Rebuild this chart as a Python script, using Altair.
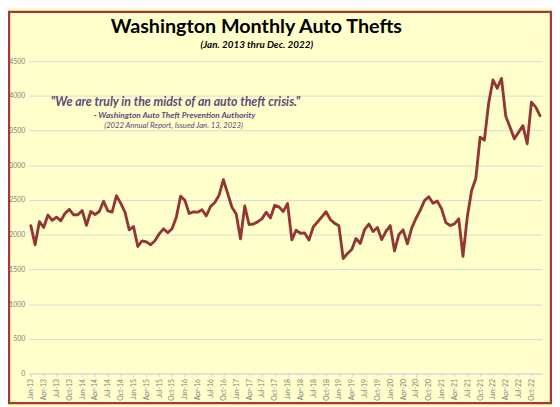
import altair as alt
import pandas as pd

# ---- data -------------------------------------------------------------
month_names = ["Jan", "Feb", "Mar", "Apr", "May", "Jun",
               "Jul", "Aug", "Sep", "Oct", "Nov", "Dec"]
years = [13, 14, 15, 16, 17, 18, 19, 20, 21, 22]
month_labels = [f"{m}-{y}" for y in years for m in month_names]

thefts = [
    2130, 1855, 2188, 2105, 2283, 2206, 2253, 2200, 2308, 2365, 2287, 2287,  # 2013
    2348, 2135, 2334, 2291, 2334, 2481, 2344, 2327, 2561, 2455, 2325, 2070,  # 2014
    2118, 1830, 1912, 1897, 1855, 1913, 2012, 2085, 2028, 2087, 2253, 2555,  # 2015
    2495, 2306, 2330, 2325, 2360, 2272, 2406, 2465, 2570, 2792, 2595, 2395,  # 2016
    2297, 1940, 2414, 2147, 2154, 2185, 2228, 2325, 2242, 2424, 2400, 2336,  # 2017
    2448, 1926, 2064, 2021, 2026, 1922, 2112, 2183, 2258, 2330, 2220, 2164,  # 2018
    2128, 1657, 1730, 1787, 1946, 1873, 2075, 2154, 2047, 2103, 1930, 2047,  # 2019
    2131, 1766, 2000, 2070, 1869, 2093, 2234, 2350, 2491, 2547, 2453, 2484,  # 2020
    2372, 2175, 2133, 2157, 2229, 1690, 2252, 2633, 2810, 3405, 3362, 3895,  # 2021
    4229, 4110, 4252, 3705, 3548, 3381, 3476, 3571, 3310, 3910, 3838, 3714,  # 2022
]

y_ticks = [0, 500, 1000, 1500, 2000, 2500, 3000, 3500, 4000, 4500]
x_tick_labels = month_labels[::3]

title_text = "Washington Monthly Auto Thefts"
subtitle_text = "(Jan. 2013 thru Dec. 2022)"
quote_text = "\"We are truly in the midst of an auto theft crisis.\""
source_text = "- Washington Auto Theft Prevention Authority"
report_text = "(2022 Annual Report, Issued Jan. 13, 2023)"

df = pd.DataFrame({"month": month_labels, "thefts": thefts})
one = pd.DataFrame({"k": [0]})

PAD_L, PAD_T = 21, 51
W, H = 521, 317
FONT = "Lato"
GRAY = "#808080"
GRID = "#D9D9D9"
LINE = "#943634"
PURPLE = "#5F497A"

line = alt.Chart(df).mark_line(
    color=LINE, strokeWidth=2.9, strokeJoin="round", strokeCap="round"
).encode(
    x=alt.X("month:O", sort=month_labels, title=None,
            scale=alt.Scale(padding=0.5),
            axis=alt.Axis(values=x_tick_labels, labelAngle=270, labelFontSize=7,
                          labelColor=GRAY, labelFont=FONT, labelOverlap=False,
                          domainColor=GRID, tickColor=GRID, tickSize=3,
                          labelPadding=2, grid=False)),
    y=alt.Y("thefts:Q", title=None,
            scale=alt.Scale(domain=[0, 4500], nice=False),
            axis=alt.Axis(values=y_ticks, format="d", gridColor=GRID, domain=False,
                          ticks=False, labelFontSize=7, labelColor=GRAY,
                          labelFont=FONT, labelPadding=4)),
)

# absolute page coordinates -> group coordinates
def gx(x):
    return x - 8 - PAD_L

def gy(y):
    return y - 8 - PAD_T

def txt(text, x, y, size, weight="normal", style="normal", color="black", baseline="middle"):
    return alt.Chart(one).mark_text(
        text=text, font=FONT, fontSize=size, fontWeight=weight, fontStyle=style,
        color=color, align="center", baseline=baseline
    ).encode(x=alt.value(gx(x)), y=alt.value(gy(y)))

border = alt.Chart(one).mark_rect(
    fillOpacity=0, stroke="#A5393A", strokeWidth=2.5
).encode(x=alt.value(gx(9)), x2=alt.value(gx(559)),
         y=alt.value(gy(9)), y2=alt.value(gy(406)))

chart = alt.layer(
    line,
    txt(title_text, 260, 30, 20, weight="bold", baseline="alphabetic"),
    txt(subtitle_text, 260.5, 42.7, 10, weight="bold", style="italic"),
    txt(quote_text, 178, 100, 12.5, weight="bold", style="italic", color=PURPLE),
    txt(source_text, 177, 114, 8.5, weight="bold", style="italic", color=PURPLE),
    txt(report_text, 176, 125.3, 7.8, style="italic", color=PURPLE),
    border,
).properties(
    width=W, height=H, background="#FFFFCC",
    padding={"left": PAD_L, "top": PAD_T, "right": 552 - PAD_L - W, "bottom": 399 - PAD_T - H},
    autosize=alt.AutoSizeParams(type="none"),
).configure_view(stroke=None)

chart.save("out.html", embed_options={"renderer": "svg", "actions": False})
